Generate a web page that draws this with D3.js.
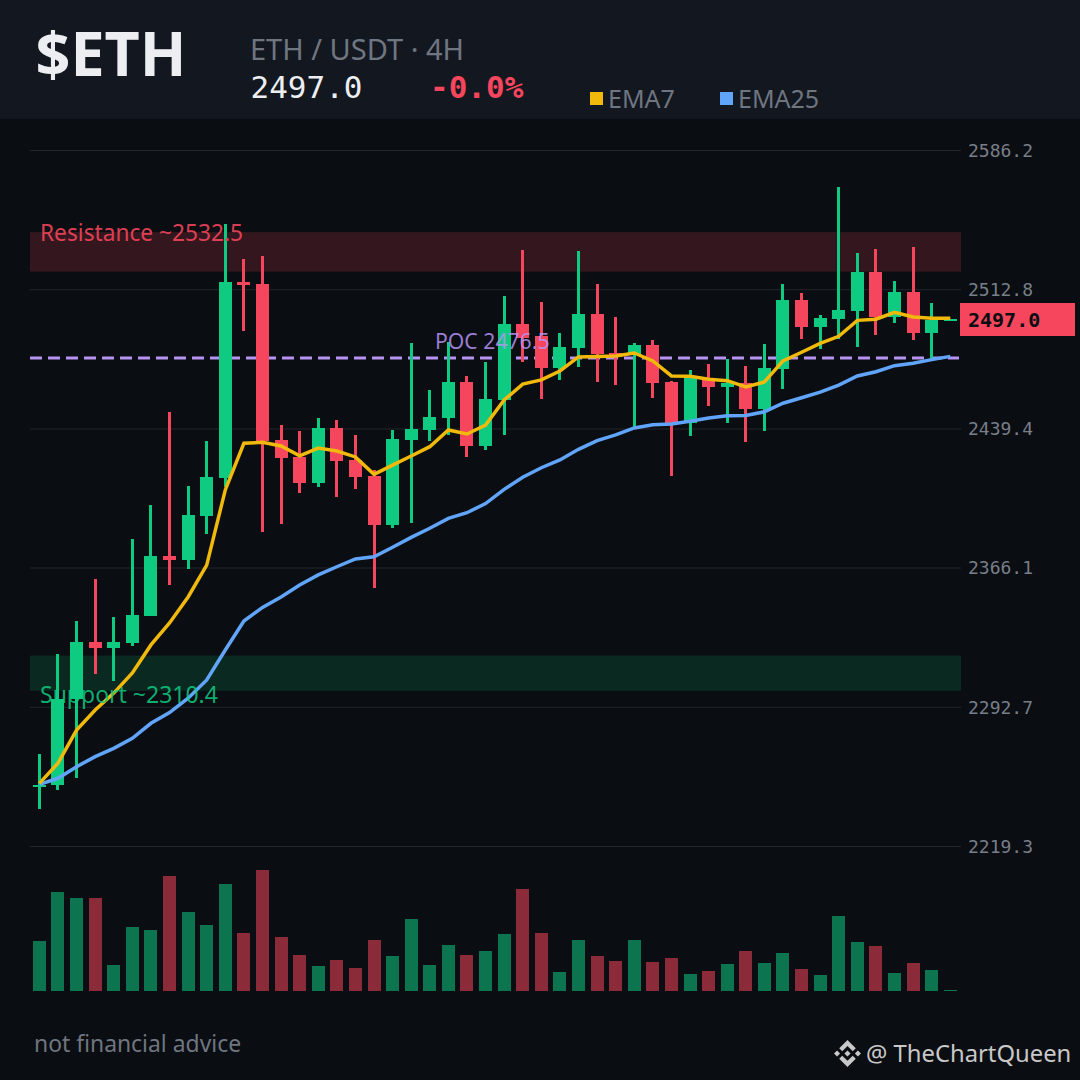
<!DOCTYPE html>
<html lang="en">
<head>
  <meta charset="UTF-8">
  <title>$ETH 4H chart</title>
  <style>
    html, body { margin: 0; padding: 0; background: #0a0d11; }
    svg { display: block; }
    text { font-family: "Noto Sans", sans-serif; }
    .mono { font-family: "DejaVu Sans Mono", monospace; }
  </style>
  <script src="https://d3js.org/d3.v7.min.js"></script>
</head>
<body>

<div id="chart"></div>

<script>
  // Candles
  var opens = [2251.0, 2251.6, 2296.8, 2326.8, 2323.7, 2326.3, 2340.5, 2372.2, 2370.1, 2393.3,
    2413.3, 2516.6, 2515.6, 2433.3, 2424.4, 2410.7, 2439.7, 2422.8, 2414.3, 2388.5,
    2433.3, 2438.6, 2444.9, 2463.9, 2430.2, 2454.4, 2494.5, 2488.1, 2471.3, 2481.8,
    2499.7, 2479.2, 2478.7, 2483.4, 2463.9, 2442.3, 2465.5, 2461.3, 2463.4, 2449.7,
    2470.8, 2507.1, 2492.9, 2497.1, 2501.3, 2521.9, 2498.2, 2511.3, 2489.7, 2496.6];
  var highs = [2267.8, 2320.5, 2337.9, 2360.0, 2340.0, 2381.1, 2399.1, 2448.1, 2409.1, 2432.8,
    2547.2, 2528.7, 2530.3, 2441.2, 2438.1, 2444.9, 2443.9, 2436.0, 2417.5, 2438.6,
    2484.5, 2459.7, 2485.0, 2467.1, 2474.4, 2509.2, 2533.5, 2506.1, 2489.7, 2533.0,
    2515.6, 2498.2, 2484.5, 2486.0, 2464.4, 2470.2, 2473.4, 2476.0, 2472.3, 2483.9,
    2515.6, 2510.8, 2499.2, 2566.7, 2531.9, 2534.0, 2517.1, 2535.1, 2505.5, 2497.0];
  var lows = [2239.0, 2249.0, 2255.3, 2310.1, 2306.3, 2324.7, 2340.5, 2356.9, 2365.3, 2383.8,
    2408.5, 2490.8, 2384.8, 2389.0, 2405.4, 2408.5, 2403.3, 2407.5, 2355.3, 2386.9,
    2389.6, 2432.8, 2436.0, 2424.4, 2428.1, 2436.0, 2474.4, 2454.9, 2465.0, 2471.8,
    2463.9, 2462.3, 2439.7, 2455.5, 2414.3, 2435.4, 2451.2, 2442.3, 2432.3, 2438.1,
    2460.2, 2486.6, 2481.3, 2486.6, 2482.3, 2488.7, 2495.0, 2486.0, 2476.6, 2496.6];
  var closes = [2251.6, 2296.8, 2326.8, 2323.7, 2326.8, 2341.1, 2372.2, 2370.1, 2393.8, 2413.8,
    2516.6, 2515.0, 2432.8, 2423.8, 2410.7, 2439.7, 2422.3, 2413.8, 2388.5, 2433.8,
    2439.1, 2445.4, 2463.9, 2430.2, 2454.9, 2494.5, 2487.1, 2471.3, 2482.3, 2499.7,
    2478.7, 2477.1, 2483.4, 2463.4, 2441.8, 2466.5, 2461.3, 2463.4, 2449.7, 2471.3,
    2507.1, 2492.9, 2497.6, 2501.9, 2521.9, 2498.2, 2511.3, 2489.7, 2496.6, 2497.0];

  var ema7 = [2252.3, 2263.0, 2280.4, 2291.0, 2299.9, 2310.5, 2325.3, 2336.9, 2350.6, 2367.4,
    2407.0, 2431.6, 2432.1, 2430.2, 2425.0, 2429.1, 2427.5, 2424.4, 2415.2, 2420.1,
    2424.9, 2429.8, 2438.6, 2436.5, 2441.2, 2454.4, 2462.8, 2465.0, 2469.7, 2477.1,
    2477.4, 2477.6, 2479.2, 2475.0, 2467.1, 2466.9, 2465.4, 2464.6, 2461.3, 2463.9,
    2475.0, 2479.6, 2484.3, 2488.0, 2496.4, 2497.0, 2500.6, 2498.2, 2497.5, 2497.5];
  var ema25 = [2251.8, 2255.0, 2261.1, 2266.4, 2270.8, 2276.1, 2284.0, 2289.6, 2297.2, 2306.8,
    2322.6, 2337.9, 2345.1, 2350.6, 2356.9, 2362.2, 2366.5, 2370.6, 2371.8, 2376.8,
    2382.0, 2386.8, 2392.0, 2395.0, 2399.8, 2407.3, 2413.7, 2418.7, 2422.8, 2428.4,
    2433.0, 2436.0, 2439.7, 2441.4, 2441.8, 2443.2, 2444.9, 2446.1, 2446.3, 2448.2,
    2452.7, 2455.6, 2458.6, 2462.3, 2467.1, 2469.3, 2472.5, 2473.8, 2475.7, 2477.4];

  // Volume has no axis in the picture, so these are relative units
  var volumes = [50, 99, 93, 93, 26, 64, 61, 115, 79, 66,
    107, 58, 121, 54, 36, 25, 31, 23, 51, 35,
    72, 26, 46, 36, 40, 57, 102, 58, 19, 51,
    35, 30, 51, 29, 33, 17, 20, 27, 40, 28,
    38, 22, 16, 75, 49, 45, 18, 28, 21, 1];

  var priceTicks = [2586.2, 2512.8, 2439.4, 2366.1, 2292.7, 2219.3];
  var resistance = [2522.1, 2532.5, 2542.9];
  var support = [2301.1, 2310.4, 2319.7];
  var poc = 2476.5;
  var lastPrice = 2497.0;

  var green = "#0ecb81";
  var red = "#f6465d";
  var yellow = "#f0b90b";
  var blue = "#60a5fa";
  var purple = "#b794f4";
  var up = opens.map((o, i) => closes[i] >= o);

  var width = 1080;
  var height = 1080;
  var left = 30;
  var right = 961;

  var svg = d3.select("#chart").append("svg")
    .attr("width", width)
    .attr("height", height);

  var x = d3.scaleLinear().domain([0, opens.length - 1]).range([39.4, 950.3]);
  var y = d3.scaleLinear().domain([2219.3, 2586.2]).range([846, 150]);
  var yVol = d3.scaleLinear().domain([0, 121]).range([991, 870]);

  // Header strip
  svg.append("rect").attr("width", width).attr("height", 119).attr("fill", "#131720");
  svg.append("text").attr("x", 35.5).attr("y", 76)
    .attr("font-size", 61).attr("font-weight", 700).attr("fill", "#eceef2").text("$ETH");
  svg.append("text").attr("x", 250).attr("y", 60)
    .attr("font-size", 29).attr("fill", "#6f7680").text("ETH / USDT · 4H");
  svg.append("text").attr("class", "mono").attr("x", 250.5).attr("y", 98)
    .attr("font-size", 31).attr("fill", "#eceef2").text(lastPrice.toFixed(1));
  svg.append("text").attr("class", "mono").attr("x", 430).attr("y", 98)
    .attr("font-size", 31).attr("font-weight", 700).attr("fill", red).text("-0.0%");

  // Legend
  var legend = [["EMA7", yellow, 590], ["EMA25", blue, 720]];
  legend.forEach(d => {
    svg.append("rect").attr("x", d[2]).attr("y", 92).attr("width", 13).attr("height", 13).attr("fill", d[1]);
    svg.append("text").attr("x", d[2] + 18).attr("y", 108)
      .attr("font-size", 25).attr("fill", "#6f7680").text(d[0]);
  });

  // Grid and price labels
  var axis = svg.append("g")
    .attr("transform", "translate(" + right + ",0)")
    .call(d3.axisRight(y).tickValues(priceTicks).tickSize(0).tickPadding(7).tickFormat(d3.format(".1f")));
  axis.select(".domain").remove();
  axis.selectAll("text").attr("class", "mono").attr("font-size", 18).attr("fill", "#787f89").attr("dy", "0.35em");
  axis.selectAll("line").attr("x1", left - right).attr("x2", 0)
    .attr("stroke", "#23272b").attr("stroke-width", 1);

  // Resistance and support zones
  svg.append("rect").attr("x", left).attr("width", right - left)
    .attr("y", y(resistance[2])).attr("height", y(resistance[0]) - y(resistance[2]))
    .attr("fill", red).attr("fill-opacity", 0.18);
  svg.append("rect").attr("x", left).attr("width", right - left)
    .attr("y", y(support[2])).attr("height", y(support[0]) - y(support[2]))
    .attr("fill", green).attr("fill-opacity", 0.15);

  // POC line
  svg.append("line").attr("x1", left).attr("x2", 959).attr("y1", y(poc)).attr("y2", y(poc))
    .attr("stroke", purple).attr("stroke-width", 3).attr("stroke-dasharray", "12,6");

  // Volume bars
  svg.append("g").attr("shape-rendering", "crispEdges")
    .selectAll("rect").data(volumes).enter().append("rect")
    .attr("x", (d, i) => x(i) - 6.5)
    .attr("width", 13)
    .attr("y", d => yVol(d))
    .attr("height", d => yVol(0) - yVol(d))
    .attr("fill", (d, i) => up[i] ? green : red)
    .attr("fill-opacity", 0.55);

  // Candles
  var candles = svg.append("g").attr("shape-rendering", "crispEdges");
  candles.selectAll("line").data(opens).enter().append("line")
    .attr("x1", (d, i) => x(i)).attr("x2", (d, i) => x(i))
    .attr("y1", (d, i) => y(highs[i])).attr("y2", (d, i) => y(lows[i]))
    .attr("stroke", (d, i) => up[i] ? green : red)
    .attr("stroke-width", 3);
  candles.selectAll("rect").data(opens).enter().append("rect")
    .attr("x", (d, i) => x(i) - 6.5)
    .attr("width", 13)
    .attr("y", (d, i) => y(Math.max(d, closes[i])))
    .attr("height", (d, i) => Math.max(2, Math.abs(y(d) - y(closes[i]))))
    .attr("fill", (d, i) => up[i] ? green : red);

  // EMA lines
  var line = d3.line().x((d, i) => x(i)).y(d => y(d));
  svg.append("path").datum(ema25).attr("d", line)
    .attr("fill", "none").attr("stroke", blue).attr("stroke-width", 3.5);
  svg.append("path").datum(ema7).attr("d", line)
    .attr("fill", "none").attr("stroke", yellow).attr("stroke-width", 3.5);

  // Level labels sit over the candles
  svg.append("text").attr("x", 40).attr("y", y(resistance[1]) - 11)
    .attr("font-size", 22.7).attr("fill", red).attr("fill-opacity", 0.9)
    .text("Resistance ~" + resistance[1]);
  svg.append("text").attr("x", 40).attr("y", y(support[1]) + 30)
    .attr("font-size", 23).attr("fill", green).attr("fill-opacity", 0.85)
    .text("Support ~" + support[1]);
  svg.append("text").attr("x", 435).attr("y", y(poc) - 9)
    .attr("font-size", 21.2).attr("fill", purple).attr("fill-opacity", 0.85)
    .text("POC " + poc);

  // Last price tag
  svg.append("rect").attr("x", 960).attr("y", 303).attr("width", 115).attr("height", 33).attr("fill", red);
  svg.append("text").attr("class", "mono").attr("x", 968).attr("y", y(lastPrice) + 8)
    .attr("font-size", 20).attr("font-weight", 700).attr("fill", "#0a0d11").text(lastPrice.toFixed(1));

  // Footer
  svg.append("text").attr("x", 34).attr("y", 1052)
    .attr("font-size", 22.9).attr("fill", "#6f7680").text("not financial advice");

  var logo = svg.append("g").attr("transform", "translate(834,1040) scale(0.213)").attr("fill", "#c8c8c8");
  ["M38.73 53.2l24.59-24.58 24.6 24.6 14.3-14.31L63.32 0 24.43 38.89z",
    "M0 63.31l14.3-14.31 14.31 14.31-14.31 14.3z",
    "M38.73 73.41L63.32 98l24.6-24.6 14.31 14.29-38.91 38.92-38.89-38.9-.02-.02z",
    "M98.01 63.31l14.3-14.31 14.31 14.31-14.31 14.3z",
    "M77.83 63.3L63.32 48.78 52.59 59.51l-1.24 1.23-2.54 2.54 14.51 14.5 14.51-14.47z"
  ].forEach(p => logo.append("path").attr("d", p));
  svg.append("text").attr("x", 866).attr("y", 1062)
    .attr("font-size", 23.8).attr("fill", "#c8c8c8").text("@ TheChartQueen");
</script>

</body>
</html>
